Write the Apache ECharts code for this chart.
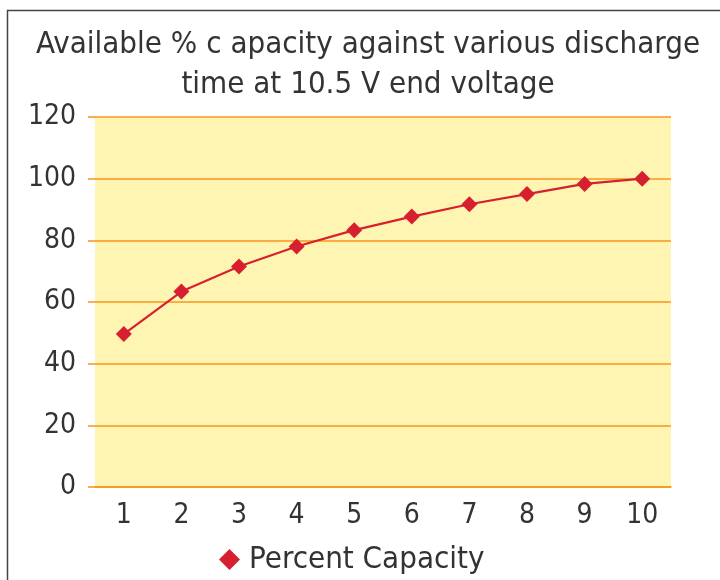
<!DOCTYPE html>
<html>
<head>
<meta charset="utf-8">
<script src="https://cdn.jsdelivr.net/npm/echarts@6/dist/echarts.min.js"></script>
<style>
  html, body { margin: 0; padding: 0; background: #fff; }
  #chart { width: 720px; height: 580px; }
</style>
</head>
<body>
<div id="chart"></div>
<script>
const titleLines = ["Available % c apacity against various discharge", "time at 10.5 V end voltage"];
const hours = ["1", "2", "3", "4", "5", "6", "7", "8", "9", "10"];
const percentCapacity = [49.6, 63.4, 71.5, 78, 83.3, 87.7, 91.7, 95, 98.3, 100];
const seriesName = "Percent Capacity";

const font = "'DejaVu Sans Condensed', 'DejaVu Sans', sans-serif";
const textColor = "#333";
const gridColor = "#F7941D";

const chart = echarts.init(document.getElementById("chart"));

chart.setOption({
  backgroundColor: "#fff",
  animation: false,
  textStyle: { fontFamily: font },
  graphic: [
    {
      type: "polyline",
      shape: { points: [[7.5, 580], [7.5, 10.5], [720, 10.5]] },
      style: { stroke: "#444", lineWidth: 1.5, fill: null },
    },
  ],
  title: {
    text: titleLines.join("\n"),
    left: 363,
    textAlign: "center",
    top: 20,
    textStyle: {
      fontFamily: font,
      fontSize: 31,
      fontWeight: "normal",
      color: textColor,
      lineHeight: 40,
    },
  },
  legend: {
    data: [{ name: seriesName, icon: "diamond" }],
    bottom: 0,
    left: 214,
    itemWidth: 21,
    itemHeight: 21,
    itemGap: 10,
    textStyle: { fontFamily: font, fontSize: 31, color: textColor, padding: [0, 0, 0, 4] },
  },
  grid: {
    left: 95,
    right: 49,
    top: 117,
    bottom: 93,
    show: true,
    backgroundColor: "#FFF5B3",
    borderWidth: 0,
  },
  xAxis: {
    type: "category",
    data: hours,
    boundaryGap: true,
    axisLine: { show: true, lineStyle: { color: gridColor, width: 1.5 } },
    axisTick: { show: false },
    axisLabel: {
      fontFamily: font,
      fontSize: 28,
      color: textColor,
      margin: 15,
    },
  },
  yAxis: {
    type: "value",
    min: 0,
    max: 120,
    interval: 20,
    axisLine: { show: false },
    axisTick: { show: true, length: 7, lineStyle: { color: gridColor, width: 1.5 } },
    splitLine: { show: true, lineStyle: { color: gridColor, width: 1.5 } },
    axisLabel: {
      fontFamily: font,
      fontSize: 28,
      color: textColor,
      margin: 19,
      padding: [4, 0, 0, 0],
    },
  },
  series: [
    {
      name: seriesName,
      type: "line",
      data: percentCapacity,
      symbol: "diamond",
      symbolSize: 16,
      itemStyle: { color: "#D7202F" },
      lineStyle: { color: "#D7202F", width: 2.2 },
    },
  ],
});
</script>
</body>
</html>
